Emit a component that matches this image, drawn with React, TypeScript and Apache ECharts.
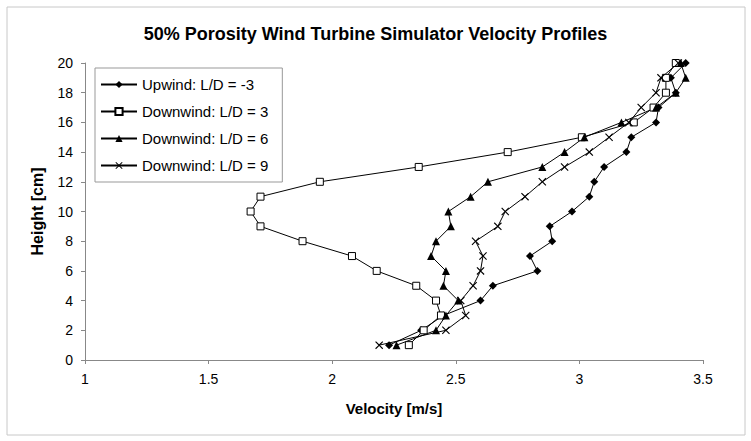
import React, { useEffect, useRef } from "react";
import * as echarts from "echarts";

const heights = [1, 2, 3, 4, 5, 6, 7, 8, 9, 10, 11, 12, 13, 14, 15, 16, 17, 18, 19, 20];
const upwind = [2.23, 2.36, 2.45, 2.6, 2.65, 2.83, 2.8, 2.89, 2.88, 2.97, 3.04, 3.06, 3.1, 3.19, 3.21, 3.31, 3.32, 3.39, 3.37, 3.43];
const downwind3 = [2.31, 2.37, 2.44, 2.42, 2.34, 2.18, 2.08, 1.88, 1.71, 1.67, 1.71, 1.95, 2.35, 2.71, 3.01, 3.22, 3.3, 3.35, 3.35, 3.39];
const downwind6 = [2.26, 2.42, 2.46, 2.51, 2.45, 2.46, 2.4, 2.42, 2.48, 2.47, 2.56, 2.63, 2.85, 2.94, 3.02, 3.17, 3.31, 3.39, 3.43, 3.41];
const downwind9 = [2.19, 2.46, 2.54, 2.52, 2.57, 2.6, 2.61, 2.58, 2.67, 2.7, 2.78, 2.85, 2.94, 3.04, 3.12, 3.2, 3.25, 3.31, 3.33, 3.4];
const seriesNames = ["Upwind: L/D = -3", "Downwind: L/D = 3", "Downwind: L/D = 6", "Downwind: L/D = 9"];

const FONT = "'Liberation Sans', Arial, sans-serif";
const X_SYMBOL = "path://M0,1 L1,0 L5,4 L9,0 L10,1 L6,5 L10,9 L9,10 L5,6 L1,10 L0,9 L4,5 Z";

function pairs(vals: number[]) {
  return vals.map((v, i) => [v, heights[i]]);
}

export default function App() {
  const ref = useRef<HTMLDivElement>(null);
  useEffect(() => {
    if (!ref.current) return;
    const chart = echarts.init(ref.current, null, { renderer: "svg" });
    const base = {
      type: "line",
      lineStyle: { color: "#000", width: 1 },
      symbolSize: 7,
      z: 3,
    };
    chart.setOption({
      animation: false,
      backgroundColor: "#fff",
      title: {
        text: "50% Porosity Wind Turbine Simulator Velocity Profiles",
        left: "center",
        top: 20,
        textStyle: { fontFamily: FONT, fontSize: 18, fontWeight: "bold", color: "#000" },
      },
      graphic: [
        {
          type: "rect",
          shape: { x: 7, y: 7, width: 738, height: 428 },
          style: { fill: "none", stroke: "#c8c8c8", lineWidth: 1 },
          silent: true,
        },
      ],
      legend: {
        orient: "vertical",
        left: 95,
        top: 68,
        padding: [9, 14, 9, 5],
        itemGap: 12,
        itemWidth: 36,
        itemHeight: 9,
        borderColor: "#999",
        borderWidth: 1,
        backgroundColor: "#fff",
        textStyle: { fontFamily: FONT, fontSize: 15, color: "#000" },
        data: seriesNames,
      },
      grid: { left: 85, right: 48, top: 63, bottom: 81, containLabel: false },
      xAxis: {
        type: "value",
        min: 1,
        max: 3.5,
        interval: 0.5,
        name: "Velocity [m/s]",
        nameLocation: "middle",
        nameGap: 41,
        nameTextStyle: { fontFamily: FONT, fontSize: 15, fontWeight: "bold", color: "#000" },
        axisLine: { lineStyle: { color: "#888" } },
        axisTick: { show: true, length: 4, lineStyle: { color: "#888" } },
        axisLabel: { fontFamily: FONT, fontSize: 14, color: "#000", margin: 12 },
        splitLine: { show: false },
      },
      yAxis: {
        type: "value",
        min: 0,
        max: 20,
        interval: 2,
        name: "Height [cm]",
        nameLocation: "middle",
        nameGap: 40,
        nameTextStyle: { fontFamily: FONT, fontSize: 16, fontWeight: "bold", color: "#000" },
        axisLine: { show: true, lineStyle: { color: "#888" } },
        axisTick: { show: true, length: 4, lineStyle: { color: "#888" } },
        axisLabel: { fontFamily: FONT, fontSize: 14, color: "#000", margin: 12 },
        splitLine: { show: false },
      },
      series: [
        {
          ...base,
          name: seriesNames[0],
          data: pairs(upwind),
          symbol: "diamond",
          symbolSize: 8,
          itemStyle: { color: "#000" },
        },
        {
          ...base,
          name: seriesNames[1],
          data: pairs(downwind3),
          symbol: "rect",
          symbolSize: 7,
          itemStyle: { color: "#fff", borderColor: "#000", borderWidth: 1 },
        },
        {
          ...base,
          name: seriesNames[2],
          data: pairs(downwind6),
          symbol: "triangle",
          symbolSize: 8,
          itemStyle: { color: "#000" },
        },
        {
          ...base,
          name: seriesNames[3],
          data: pairs(downwind9),
          symbol: X_SYMBOL,
          symbolSize: 8,
          itemStyle: { color: "#000" },
        },
      ],
    });
    return () => chart.dispose();
  }, []);
  return (
    <div
      ref={ref}
      style={{ position: "fixed", left: 0, top: 0, width: 751, height: 441, background: "#fff" }}
    />
  );
}
